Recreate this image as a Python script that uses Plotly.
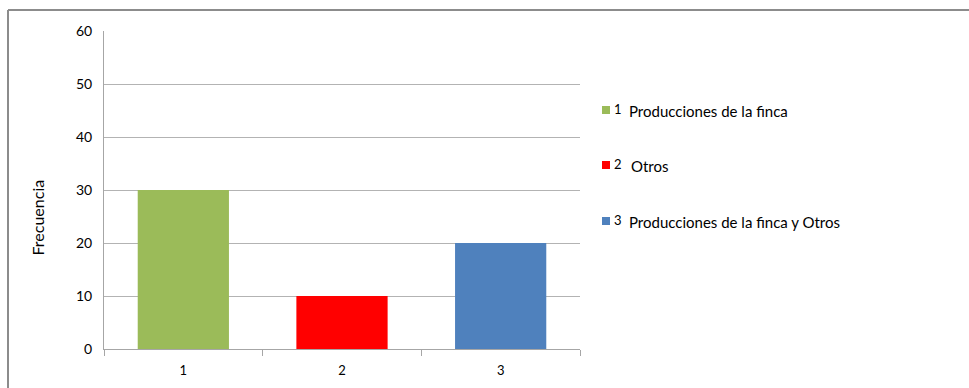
import plotly.graph_objects as go

# Frecuencia por fuente de ingreso
categorias = ["1", "2", "3"]
frecuencias = [30, 10, 20]
nombres = ["Producciones de la finca", "Otros", "Producciones de la finca y Otros"]
colores = ["#9BBB59", "#FF0000", "#4F81BD"]

W, H = 969, 388
L, R, T, B = 104, 580, 31, 349  # plot area in pixels


def px_x(p):
    return (p - L) / (R - L)


def px_y(p):
    return (B - p) / (B - T)


fig = go.Figure()
for cat, val, nom, col in zip(categorias, frecuencias, nombres, colores):
    fig.add_trace(go.Bar(
        x=[cat], y=[val], name=f"{cat} {nom}", width=0.575,
        marker=dict(color=col, line=dict(width=0)),
    ))

fig.update_layout(
    width=W, height=H,
    margin=dict(l=L, r=W - R, t=T, b=H - B),
    paper_bgcolor="white", plot_bgcolor="white",
    barmode="overlay",
    font=dict(family="Lato, Open Sans, sans-serif", color="#000000"),
    showlegend=False,
    xaxis=dict(
        type="category", tickson="boundaries", ticks="outside", ticklen=6,
        tickcolor="#A6A6A6", showline=True, linecolor="#A6A6A6", linewidth=1,
        showgrid=False, tickfont=dict(size=13), range=[-0.5, 2.5],
        ticklabelstandoff=9, automargin=False,
    ),
    yaxis=dict(
        range=[0, 60], dtick=10, showgrid=True, gridcolor="#B3B3B3", gridwidth=1,
        showline=True, linecolor="#A6A6A6", linewidth=1, ticks="",
        tickfont=dict(size=14), ticklabelstandoff=8, zeroline=False,
        automargin=False,
    ),
)

# legend: colour key, number and description for each category
legend_rows = [111, 166, 222]
for cat, nom, col, yrow in zip(categorias, nombres, colores, legend_rows):
    fig.add_shape(type="rect", xref="paper", yref="paper",
                  x0=px_x(602), x1=px_x(610), y0=px_y(yrow + 3), y1=px_y(yrow - 5),
                  fillcolor=col, line=dict(width=0))
    fig.add_annotation(text=cat, xref="paper", yref="paper",
                       x=px_x(612), y=px_y(yrow - 2), xanchor="left", yanchor="middle",
                       showarrow=False, font=dict(size=13, family="Lato, sans-serif"))
    fig.add_annotation(text=nom, xref="paper", yref="paper",
                       x=px_x(627 if nom != "Otros" else 629), y=px_y(yrow),
                       xanchor="left", yanchor="middle",
                       showarrow=False, font=dict(size=15, family="Lato, sans-serif"))

# y axis caption
fig.add_annotation(
    text="Frecuencia", xref="paper", yref="paper", x=px_x(25), y=px_y(218),
    textangle=-90, showarrow=False, font=dict(size=16, family="Lato, sans-serif"),
)

# chart frame (top and left edges)
fig.add_shape(type="line", xref="paper", yref="paper",
              x0=px_x(8), y0=px_y(10), x1=px_x(970), y1=px_y(10),
              line=dict(color="#8C8C8C", width=2))
fig.add_shape(type="line", xref="paper", yref="paper",
              x0=px_x(8), y0=px_y(10), x1=px_x(8), y1=px_y(390),
              line=dict(color="#8C8C8C", width=2))

fig.write_html("out.html")
